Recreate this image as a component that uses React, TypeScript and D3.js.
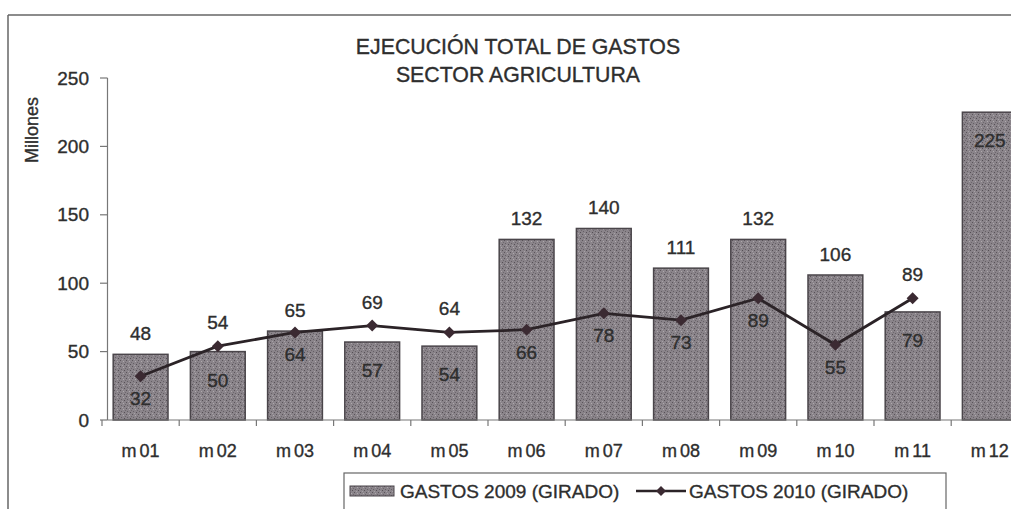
import React from "react";
import * as d3 from "d3";

const categories = ["m01","m02","m03","m04","m05","m06","m07","m08","m09","m10","m11","m12"];
const gastos2009 = [48, 50, 65, 57, 54, 132, 140, 111, 132, 106, 79, 225];
const gastos2010 = [32, 54, 64, 69, 64, 66, 78, 73, 89, 55, 89];
const yTicks = [0, 50, 100, 150, 200, 250];
const barLabelPlacement = ["above","inside","above","inside","inside","above","above","above","above","above","inside","inside"];
const lineLabelPlacement = ["below","above","below","above","above","below","below","below","below","below","above"];
const titleLines = ["EJECUCIÓN TOTAL DE GASTOS", "SECTOR AGRICULTURA"];
const yAxisTitle = "Millones";
const seriesNames = ["GASTOS 2009 (GIRADO)", "GASTOS 2010 (GIRADO)"];

const W = 1011, H = 509;
const FONT = "Liberation Sans, Arial, sans-serif";
const TXT = "#2e2e2e";

export default function App() {
  const y = d3.scaleLinear().domain([0, 250]).range([420, 78]);
  const x = d3.scaleBand<string>().domain(categories).range([102, 102 + 77.2 * 12]).paddingInner(0.29).paddingOuter(0.145);
  const step = x.step();
  const cx = (c: string) => (x(c) as number) + x.bandwidth() / 2;
  const line = d3.line<number>().x((_, i) => cx(categories[i])).y((d) => y(d)).curve(d3.curveLinear);
  const diamond = (px: number, py: number, r: number) => `M${px},${py - r}L${px + r},${py}L${px},${py + r}L${px - r},${py}Z`;
  const txtStyle = { stroke: TXT, strokeWidth: 0.35 } as React.CSSProperties;

  return (
    <svg width={W} height={H} style={{ position: "absolute", left: 0, top: 0 }} fontFamily={FONT}>
      <defs>
        <pattern id="stip" width="6" height="6" patternUnits="userSpaceOnUse">
          <rect width="6" height="6" fill="#8a848a" />
          <rect x="0" y="0" width="1" height="1" fill="#5a545a" />
          <rect x="3" y="1" width="1" height="1" fill="#aea9ad" />
          <rect x="1" y="3" width="1" height="1" fill="#656065" />
          <rect x="4" y="4" width="1" height="1" fill="#554f55" />
          <rect x="2" y="5" width="1" height="1" fill="#a6a1a6" />
          <rect x="5" y="2" width="1" height="1" fill="#6d676d" />
        </pattern>
      </defs>
      <rect width={W} height={H} fill="#fff" />
      {/* frame */}
      <line x1={8} x2={W} y1={15} y2={15} stroke="#666" strokeWidth={1.5} />
      <line x1={8} x2={8} y1={15} y2={H} stroke="#666" strokeWidth={1.5} />

      {/* title */}
      {titleLines.map((t, i) => (
        <text key={t} x={518} y={54 + i * 28} textAnchor="middle" fontSize={21.3} fill={TXT} style={txtStyle}>{t}</text>
      ))}

      {/* y axis title */}
      <text transform={`translate(38,130) rotate(-90)`} textAnchor="middle" fontSize={18} fill={TXT} style={txtStyle}>{yAxisTitle}</text>

      {/* y axis */}
      <line x1={107.5} x2={107.5} y1={y(250)} y2={y(0)} stroke="#777" strokeWidth={1.2} />
      {yTicks.map((t) => (
        <g key={t}>
          <line x1={100} x2={107.5} y1={y(t)} y2={y(t)} stroke="#777" strokeWidth={1.2} />
          <text x={89} y={y(t) + 6.5} textAnchor="end" fontSize={19} fill={TXT} style={txtStyle}>{t}</text>
        </g>
      ))}

      {/* bars */}
      {gastos2009.map((v, i) => (
        <rect key={i} x={x(categories[i])} y={y(v)} width={x.bandwidth()} height={y(0) - y(v)} fill="url(#stip)" stroke="#4a454a" strokeWidth={1.5} />
      ))}

      {/* x axis */}
      <line x1={107.5} x2={W} y1={y(0)} y2={y(0)} stroke="#777" strokeWidth={1.2} />
      {categories.map((c) => (
        <line key={c} x1={(x(c) as number) - (step - x.bandwidth()) / 2} x2={(x(c) as number) - (step - x.bandwidth()) / 2} y1={y(0)} y2={y(0) + 6} stroke="#777" strokeWidth={1.2} />
      ))}
      {categories.map((c) => (
        <text key={c} x={cx(c)} y={457} textAnchor="middle" fontSize={18} fill={TXT} style={txtStyle}>
          {c.slice(0, 1)}<tspan dx={3}>{c.slice(1)}</tspan>
        </text>
      ))}

      {/* line */}
      <path d={line(gastos2010) as string} fill="none" stroke="#2b2327" strokeWidth={2.8} />
      {gastos2010.map((v, i) => (
        <path key={i} d={diamond(cx(categories[i]), y(v), 6)} fill="#3b2a32" />
      ))}

      {/* bar labels */}
      {gastos2009.map((v, i) => {
        const top = y(v);
        const yy = barLabelPlacement[i] === "above" ? top - 14 : top + 35;
        return (
          <text key={i} x={cx(categories[i])} y={yy} textAnchor="middle" fontSize={19} fill={TXT} style={txtStyle}>{v}</text>
        );
      })}
      {/* line labels */}
      {gastos2010.map((v, i) => {
        const p = y(v);
        const yy = lineLabelPlacement[i] === "above" ? p - 17 : p + 29;
        return (
          <text key={i} x={cx(categories[i])} y={yy} textAnchor="middle" fontSize={19} fill={TXT} style={txtStyle}>{v}</text>
        );
      })}

      {/* legend */}
      <rect x={344} y={473} width={602} height={45} fill="#fff" stroke="#666" strokeWidth={1.2} />
      <rect x={350} y={486} width={44} height={10} fill="url(#stip)" stroke="#4a454a" strokeWidth={1} />
      <text x={400} y={498} fontSize={19} fill={TXT} style={txtStyle}>{seriesNames[0]}</text>
      <line x1={636} x2={686} y1={491} y2={491} stroke="#2b2327" strokeWidth={2.5} />
      <path d={diamond(661, 491, 5)} fill="#3b2a32" />
      <text x={689} y={498} fontSize={19} fill={TXT} style={txtStyle}>{seriesNames[1]}</text>
    </svg>
  );
}
